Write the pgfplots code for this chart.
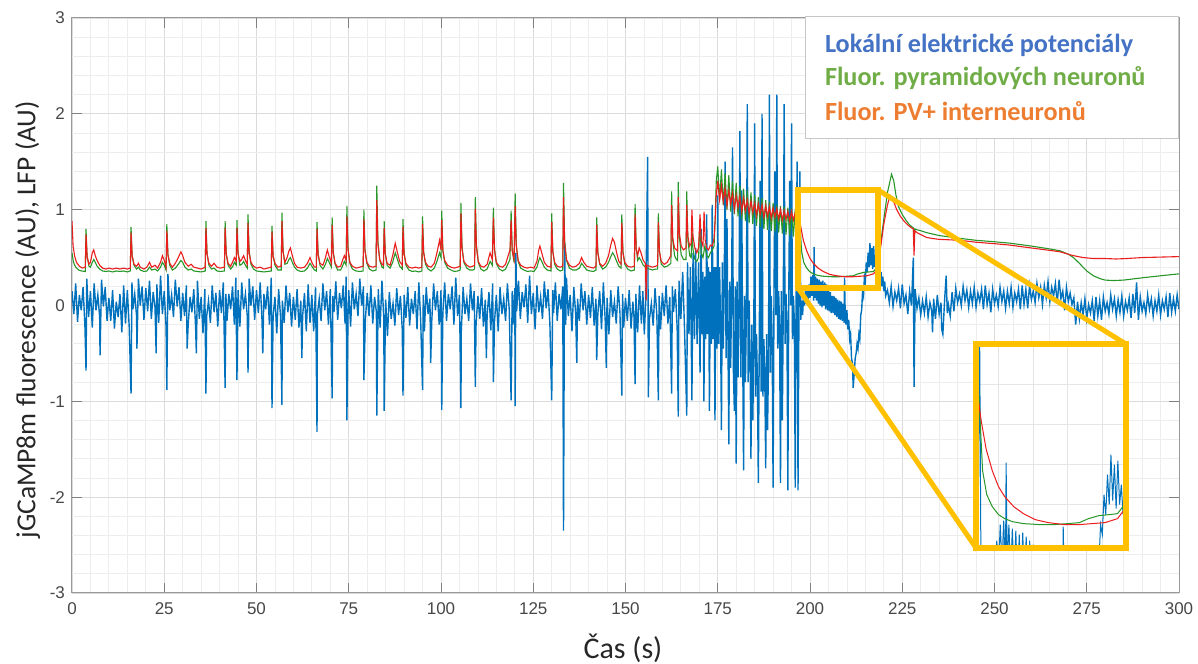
\documentclass[border=0pt]{standalone}
\usepackage{pgfplots}
\pgfplotsset{compat=1.18}
\usepackage{pgfplotstable}
\usetikzlibrary{calc}
\usepackage{fontspec}
\setmainfont{Carlito}
\newfontfamily\arialf{Liberation Sans}
\definecolor{lfpblue}{RGB}{0,114,189}
\definecolor{fred}{RGB}{235,30,30}
\definecolor{fgreen}{RGB}{40,150,40}
\definecolor{legblue}{RGB}{68,114,196}
\definecolor{leggreen}{RGB}{112,173,71}
\definecolor{legorange}{RGB}{237,125,49}
\definecolor{zoomyellow}{RGB}{255,192,0}

\pgfplotstableread[row sep=\\]{
x y\\
0 0.15\\ 0.5 -0.09\\ 1 0.23\\ 1.5 -0.17\\ 2 0.11\\ 2.5 -0.05\\ 3 0.19\\ 3.5 -0.21\\ 3.8 -0.68\\ 4 0.28\\ 4.5 -0.12\\
5 0.15\\ 5.5 -0.23\\ 6 0.23\\ 6.5 -0.05\\ 7 0.11\\ 7.5 -0.12\\ 7.6 -0.52\\ 8 0.27\\ 8.5 -0.01\\ 9 0.19\\ 9.5 -0.16\\
10 0.08\\ 10.5 -0.16\\ 11 0.16\\ 11.5 -0.24\\ 12 0.04\\ 12.5 -0.12\\ 13 0.12\\ 13.5 -0.28\\ 14 0.21\\ 14.5 -0.19\\
15 0.16\\ 15.5 -0.22\\ 16.0 -0.92\\ 16.25 0.24\\ 16.5 -0.04\\ 17 0.12\\ 17.5 -0.11\\ 17.6 -0.45\\ 18 0.28\\ 18.5 0.0\\ 19 0.20\\ 19.5 -0.15\\
20 0.18\\ 20.5 -0.06\\ 21 0.26\\ 21.5 -0.14\\ 22 0.14\\ 22.5 -0.02\\ 22.8 -0.5\\ 23 0.22\\ 23.5 -0.18\\ 24 0.31\\ 24.5 -0.09\\
25 0.15\\ 25.5 -0.23\\ 25.7 -0.88\\ 26 0.33\\ 26.5 -0.05\\ 27 0.11\\ 27.5 -0.12\\ 28 0.27\\ 28.5 -0.01\\ 29 0.19\\ 29.5 -0.16\\
30 0.13\\ 30.5 -0.11\\ 31 0.21\\ 31.2 -0.45\\ 31.5 -0.19\\ 32 0.09\\ 32.5 -0.07\\ 33 0.17\\ 33.5 -0.23\\ 33.7 -0.5\\ 34 0.26\\ 34.5 -0.14\\
35 0.09\\ 35.5 -0.29\\ 36 0.17\\ 36.3 -0.92\\ 36.5 -0.11\\ 37 0.05\\ 37.5 -0.18\\ 38 0.21\\ 38.5 -0.07\\ 39 0.13\\ 39.5 -0.22\\
40 0.16\\ 40.5 -0.08\\ 41 0.24\\ 41.5 -0.86\\ 41.7 0.12\\ 42 -0.16\\ 42.5 0.12\\ 43 -0.04\\ 43.5 0.20\\ 44 -0.20\\ 44.4 0.29\\ 44.7 -0.78\\
45 0.16\\ 45.5 -0.22\\ 46 0.24\\ 46.5 -0.04\\ 47 0.12\\ 47.5 -0.11\\ 47.7 -0.70\\ 48 0.28\\ 48.5 0.0\\ 49 0.20\\ 49.5 -0.15\\
50 0.16\\ 50.5 -0.08\\ 51 0.24\\ 51.5 -0.16\\ 51.7 -0.5\\ 52 0.12\\ 52.5 -0.04\\ 53 0.20\\ 53.5 -0.20\\ 54 0.29\\ 54.2 -1.07\\ 54.5 -0.11\\
55 0.09\\ 55.5 -0.29\\ 56 0.17\\ 56.5 -0.11\\ 56.9 -1.04\\ 57 0.05\\ 57.5 -0.18\\ 58 0.21\\ 58.5 -0.07\\ 59 0.13\\ 59.5 -0.22\\
60 0.09\\ 60.5 -0.15\\ 61 0.17\\ 61.5 -0.23\\ 62 0.05\\ 62.3 -0.55\\ 62.5 -0.11\\ 63 0.13\\ 63.5 -0.27\\ 64 0.22\\ 64.5 -0.18\\
65 0.11\\ 65.5 -0.27\\ 66 0.19\\ 66.4 -1.32\\ 66.5 -0.09\\ 67 0.07\\ 67.5 -0.16\\ 68 0.23\\ 68.5 -0.05\\ 69 0.15\\ 69.5 -0.20\\
70 0.17\\ 70.5 -0.97\\ 70.7 0.1\\ 71 -0.07\\ 71.5 0.25\\ 72 -0.15\\ 72.5 0.13\\ 73 -0.03\\ 73.5 0.21\\ 74 -0.19\\ 74.3 0.30\\ 74.5 -1.20\\ 74.8 -0.10\\
75 0.16\\ 75.5 -0.22\\ 76 0.24\\ 76.5 -0.04\\ 77 0.12\\ 77.5 -0.11\\ 78 0.28\\ 78.5 0.0\\ 79 0.20\\ 79.1 -0.78\\ 79.5 -0.15\\
80 0.13\\ 80.5 -0.11\\ 81 0.21\\ 81.5 -0.19\\ 82 0.09\\ 82.5 -0.07\\ 82.6 -1.15\\ 83 0.17\\ 83.5 -0.23\\ 84 0.26\\ 84.5 -0.14\\ 84.6 -1.10\\
85 0.06\\ 85.5 -0.32\\ 86 0.14\\ 86.5 -0.14\\ 87 0.02\\ 87.5 -0.21\\ 88 0.18\\ 88.5 -0.10\\ 89 0.10\\ 89.5 -0.25\\ 89.7 -0.94\\
90 0.11\\ 90.5 -0.13\\ 91 0.19\\ 91.5 -0.21\\ 92 0.07\\ 92.5 -0.09\\ 93 0.15\\ 93.5 -0.25\\ 94 0.24\\ 94.5 -0.16\\
95 -0.88\\ 95.2 0.11\\ 95.5 -0.27\\ 96 0.19\\ 96.5 -0.09\\ 97 0.07\\ 97.2 -0.6\\ 97.5 -0.16\\ 98 0.23\\ 98.5 -0.05\\ 99 0.15\\ 99.5 -0.20\\
100 0.16\\ 100.2 -1.09\\ 100.5 -0.08\\ 101 0.24\\ 101.5 -0.16\\ 102 0.12\\ 102.5 -0.04\\ 103 0.20\\ 103.5 -0.20\\ 104 0.29\\ 104.5 -0.11\\
105 0.11\\ 105.4 -1.07\\ 105.5 -0.27\\ 106 0.19\\ 106.5 -0.09\\ 107 0.07\\ 107.5 -0.16\\ 108 0.23\\ 108.5 -0.05\\ 109 0.15\\ 109.3 -0.85\\ 109.5 -0.20\\
110 0.10\\ 110.5 -0.14\\ 111 0.18\\ 111.5 -0.22\\ 112 0.06\\ 112.3 -0.55\\ 112.5 -0.10\\ 113 0.14\\ 113.5 -0.26\\ 114 0.23\\ 114.2 -0.80\\ 114.5 -0.17\\
115 0.11\\ 115.5 -0.27\\ 116 0.19\\ 116.5 -0.09\\ 117 0.07\\ 117.5 -0.16\\ 118 0.23\\ 118.5 -0.05\\ 119 -0.99\\ 119.3 0.15\\ 119.5 -0.20\\
120 0.18\\ 120.1 -1.05\\ 120.3 0.55\\ 120.5 -0.06\\ 121 0.26\\ 121.5 -0.14\\ 122 0.14\\ 122.5 -0.02\\ 123 0.22\\ 123.5 -0.18\\ 124 0.31\\ 124.5 -0.09\\
125 0.13\\ 125.5 -0.25\\ 126 0.21\\ 126.5 -0.07\\ 127 0.09\\ 127.5 -0.14\\ 128 0.25\\ 128.5 -0.03\\ 129 0.17\\ 129.5 -0.18\\
130 -0.99\\ 130.3 0.16\\ 130.5 -0.08\\ 131 0.24\\ 131.5 -0.16\\ 132 0.12\\ 132.5 -0.04\\ 133 0.20\\ 133.2 -2.35\\ 133.5 0.65\\ 133.8 -0.2\\ 134 0.29\\ 134.5 -0.11\\
135 0.11\\ 135.5 -0.27\\ 136 0.19\\ 136.5 -0.09\\ 136.8 -0.6\\ 137 0.07\\ 137.5 -0.16\\ 138 0.23\\ 138.5 -0.05\\ 139 0.15\\ 139.5 -0.20\\
140 0.11\\ 140.5 -0.13\\ 141 0.19\\ 141.5 -0.21\\ 142 0.07\\ 142.2 -0.57\\ 142.5 -0.09\\ 143 0.15\\ 143.5 -0.25\\ 144 0.24\\ 144.5 -0.16\\ 144.8 -0.65\\
145 0.08\\ 145.5 -0.30\\ 146 0.16\\ 146.5 -0.12\\ 147 0.04\\ 147.5 -0.19\\ 148 0.20\\ 148.5 -0.08\\ 149 -0.94\\ 149.2 0.12\\ 149.5 -0.23\\
150 0.08\\ 150.5 -0.16\\ 151 0.16\\ 151.5 -0.24\\ 152 0.04\\ 152.3 -0.12\\ 152.6 -0.82\\ 152.8 0.12\\ 153.3 -0.28\\ 153.8 0.21\\ 154.3 -0.19\\ 154.7 0.15\\
155.1 -0.3\\ 155.5 0.06\\ 156.0 1.55\\ 156.2 -0.96\\ 156.5 -0.14\\ 157 0.02\\ 157.5 -0.21\\ 158 0.18\\ 158.5 -0.10\\ 158.9 -0.99\\ 159.1 0.1\\ 159.5 -0.25\\
160 0.13\\ 160.5 -0.11\\ 161 0.21\\ 161.5 -0.19\\ 162 0.09\\ 162.5 -0.92\\ 162.7 0.2\\ 163 -0.07\\ 163.5 0.17\\ 164 -0.23\\ 164.3 -1.16\\ 164.5 0.26\\ 165 -0.14\\
165.5 0.35\\ 166 -0.25\\ 166.6 -1.15\\ 166.8 0.45\\ 167.2 -0.3\\ 167.6 0.4\\ 168.0 -0.99\\ 168.3 0.55\\ 168.7 -0.35\\ 169.0 0.6\\ 169.4 -0.4\\ 169.8 0.45\\ 170.2 -0.7\\ 170.5 0.8\\
170.75 -0.3\\ 171.0 0.35\\ 171.25 -1.0\\ 171.5 0.3\\ 171.75 -0.35\\ 172.0 0.95\\ 172.25 -0.3\\ 172.5 0.4\\ 172.75 -1.1\\ 173.0 0.35\\ 173.25 -0.4\\ 173.5 1.05\\ 173.75 -0.35\\ 174.0 0.4\\ 174.25 -1.2\\ 174.5 0.4\\ 174.75 -0.45\\
175.0 1.15\\ 175.25 -0.4\\ 175.5 0.4\\ 175.75 -0.2\\
176.0 -1.3\\ 176.25 0.45\\ 176.5 -0.45\\ 176.75 0.2\\
177.0 1.5\\ 177.25 -0.55\\ 177.5 0.9\\ 177.75 -0.3\\
178.0 -1.45\\ 178.25 0.25\\ 178.5 -0.65\\ 178.75 0.1\\
179.0 1.65\\ 179.25 -0.7\\ 179.5 -1.1\\ 179.75 0.2\\
180.0 -1.65\\ 180.25 0.25\\ 180.5 -0.75\\ 180.75 0.0\\
181.0 1.82\\ 181.25 -0.75\\ 181.5 1.2\\ 181.75 -0.45\\
182.0 -1.72\\ 182.25 0.1\\ 182.5 -0.8\\ 182.75 -0.1\\
183.0 2.1\\ 183.25 -0.8\\ 183.5 0.05\\ 183.75 -0.5\\
184.0 -1.6\\ 184.25 -0.2\\ 184.5 -1.2\\ 184.75 -0.5\\
185.0 1.9\\ 185.25 -0.95\\ 185.5 -0.3\\ 185.75 -0.8\\
186.0 -1.85\\ 186.25 -0.4\\ 186.5 1.3\\ 186.75 -0.9\\
187.0 2.0\\ 187.25 -0.95\\ 187.5 -0.35\\ 187.75 -0.75\\
188.0 -1.7\\ 188.25 -0.3\\ 188.5 -1.3\\ 188.75 -0.6\\
189.0 2.2\\ 189.25 -0.7\\ 189.5 0.1\\ 189.75 -0.4\\
190.0 -1.9\\ 190.25 0.15\\ 190.5 1.4\\ 190.75 -0.1\\
191.0 2.2\\ 191.25 -0.45\\ 191.5 0.15\\ 191.75 -0.2\\
192.0 -1.85\\ 192.25 0.15\\ 192.5 -1.2\\ 192.75 -0.05\\
193.0 2.1\\ 193.25 -0.4\\ 193.5 0.12\\ 193.75 -0.2\\
194.0 -1.93\\ 194.25 0.15\\ 194.5 1.3\\ 194.75 0.0\\
195.0 1.9\\ 195.25 -0.35\\ 195.5 0.1\\ 195.75 -0.15\\
196.0 -1.9\\ 196.25 0.1\\ 196.5 1.5\\ 196.75 -1.93\\
197.0 -0.1\\ 197.25 1.4\\ 197.5 -0.15\\ 197.75 0.05\\ 198 -0.1\\ 198.25 0.1\\ 198.5 0.0\\ 198.75 0.15\\ 199 0.02\\ 199.25 0.18\\ 199.5 0.05\\ 199.75 0.22\\
200 0.08\\ 200.25 0.30\\ 200.5 0.1\\ 200.75 0.32\\ 201.0 0.05\\ 201.1 0.61\\ 201.25 0.08\\ 201.5 0.30\\ 201.75 0.05\\ 202 0.28\\ 202.25 0.02\\ 202.5 0.27\\ 202.75 0.0\\
203 0.25\\ 203.25 -0.02\\ 203.5 0.26\\ 203.75 0.0\\ 204 0.24\\ 204.25 -0.04\\ 204.5 0.22\\ 204.75 -0.05\\ 205 0.20\\ 205.25 -0.06\\ 205.5 0.14\\ 205.75 -0.08\\
206 0.1\\ 206.25 -0.08\\ 206.5 0.1\\ 206.75 -0.1\\ 207 0.08\\ 207.25 -0.12\\ 207.5 0.06\\ 207.75 -0.14\\ 208 0.05\\ 208.25 -0.15\\ 208.5 0.04\\ 208.75 -0.16\\
209 0.02\\ 209.25 -0.18\\ 209.35 0.29\\ 209.5 0.0\\ 209.75 -0.2\\ 210 -0.05\\ 210.25 -0.25\\ 210.5 -0.15\\ 210.75 -0.35\\ 211 -0.3\\ 211.25 -0.55\\ 211.5 -0.6\\ 211.7 -0.86\\
212 -0.7\\ 212.25 -0.55\\ 212.5 -0.5\\ 212.75 -0.4\\ 213 -0.45\\ 213.25 -0.3\\ 213.5 -0.35\\ 213.75 -0.1\\ 214 -0.05\\ 214.25 0.15\\ 214.5 0.1\\ 214.75 0.3\\
215 0.25\\ 215.25 0.45\\ 215.5 0.35\\ 215.75 0.55\\ 216 0.4\\ 216.25 0.65\\ 216.5 0.42\\ 216.75 0.60\\ 217 0.38\\ 217.25 0.62\\ 217.5 0.4\\ 217.75 0.5\\
218 0.35\\ 218.25 0.48\\ 218.5 0.3\\ 218.75 0.4\\ 219 0.25\\ 219.25 0.35\\ 219.5 0.2\\ 219.75 0.3\\ 220 0.15\\ 220.25 0.25\\ 220.5 0.1\\
221 0.16\\ 221.5 0.03\\ 222 0.20\\ 222.5 -0.01\\ 223 0.14\\ 223.5 0.05\\ 224 0.18\\ 224.5 -0.03\\ 225 0.22\\ 225.5 0.02\\
226 0.11\\ 226.5 -0.09\\ 227 0.15\\ 227.5 0.0\\ 228.0 0.5\\ 228.2 -0.85\\ 228.5 0.17\\ 229.0 -0.03\\ 229.5 0.08\\ 230 -0.10\\
230.5 0.05\\ 231 -0.08\\ 231.5 0.09\\ 232 -0.12\\ 232.5 0.03\\ 233 -0.06\\ 233.2 -0.28\\ 233.5 0.07\\ 234 -0.14\\ 234.5 0.11\\ 235 -0.09\\
235.5 0.03\\ 235.7 -0.25\\ 236 -0.30\\ 236.5 0.07\\ 236.9 0.31\\ 237.2 -0.08\\ 237.5 0.01\\ 238 -0.11\\
238.5 0.14\\ 239 -0.06\\ 239.5 0.18\\ 240 0.03\\ 240.5 0.12\\ 241 0.0\\ 241.5 0.20\\ 242 0.05\\ 242.5 0.16\\ 243 -0.02\\
243.5 0.15\\ 244 0.02\\ 244.5 0.19\\ 245 -0.02\\ 245.5 0.13\\ 246 0.04\\ 246.5 0.17\\ 247 -0.04\\ 247.5 0.21\\ 248 0.01\\
248.5 0.13\\ 249 -0.07\\ 249.5 0.17\\ 250 0.02\\ 250.5 0.11\\ 251 -0.01\\ 251.5 0.19\\ 252 0.04\\ 252.5 0.15\\ 253 -0.03\\
253.5 0.15\\ 254 0.02\\ 254.5 0.19\\ 255 -0.02\\ 255.5 0.13\\ 256 0.04\\ 256.5 0.17\\ 257 -0.04\\ 257.5 0.21\\ 258 0.01\\
258.5 0.17\\ 259 -0.03\\ 259.5 0.21\\ 260 0.06\\ 260.5 0.15\\ 261 0.03\\ 261.5 0.23\\ 262 0.08\\ 262.5 0.19\\ 263 0.01\\
263.5 0.21\\ 264 0.08\\ 264.5 0.25\\ 265 0.04\\ 265.5 0.19\\ 266 0.10\\ 266.5 0.23\\ 267 0.02\\ 267.5 0.27\\ 268 0.07\\
268.5 0.15\\ 269 -0.05\\ 269.5 0.19\\ 270 0.04\\ 270.5 0.13\\ 271 0.01\\ 271.5 0.08\\ 272 -0.20\\ 272.5 0.04\\ 273 -0.14\\
273.5 0.03\\ 274 -0.10\\ 274.5 0.07\\ 275 -0.14\\ 275.5 0.01\\ 276 -0.08\\ 276.5 0.05\\ 277 -0.16\\ 277.5 0.09\\ 278 -0.11\\
278.5 0.05\\ 279 -0.15\\ 279.5 0.09\\ 280 -0.06\\ 280.5 0.03\\ 281 -0.09\\ 281.5 0.11\\ 282 -0.04\\ 282.5 0.07\\ 283 -0.11\\
283.5 0.06\\ 284 -0.07\\ 284.5 0.10\\ 285 -0.11\\ 285.5 0.04\\ 286 -0.05\\ 286.5 0.08\\ 287 -0.13\\ 287.5 0.12\\ 288 -0.08\\ 288.5 0.24\\
289 -0.15\\ 289.5 0.09\\ 290 -0.06\\ 290.5 0.03\\ 291 -0.09\\ 291.5 0.11\\ 292 -0.04\\ 292.5 0.07\\ 293 -0.11\\ 293.5 0.05\\
294 -0.06\\ 294.5 0.11\\ 295 -0.10\\ 295.5 0.05\\ 296 -0.04\\ 296.5 0.09\\ 297 -0.12\\ 297.5 0.13\\ 298 -0.07\\ 298.5 0.07\\ 299 -0.06\\ 299.5 0.11\\ 300 -0.04\\
}\bluetab

\pgfplotstableread[row sep=\\]{
x y\\
0 0.55\\ 0.4 0.45\\ 1.0 0.40\\ 1.8 0.37\\ 2.6 0.36\\ 3.6 0.355\\ 3.8 0.80\\ 4.1 0.51\\ 4.6 0.41\\ 5.0 0.40\\ 5.5 0.45\\ 5.9 0.48\\ 6.3 0.45\\ 6.8 0.41\\ 7.5 0.38\\ 8.3 0.36\\ 9.2 0.355\\
10 0.36\\ 11 0.35\\ 12 0.36\\ 13 0.355\\ 14 0.36\\ 15 0.35\\ 15.8 0.36\\ 16.0 0.82\\ 16.3 0.52\\ 16.8 0.42\\ 17.5 0.38\\ 18 0.40\\ 18.5 0.37\\ 19.5 0.355\\
20.3 0.36\\ 21 0.40\\ 21.6 0.37\\ 22.5 0.38\\ 23.2 0.36\\ 24 0.40\\ 24.5 0.45\\ 25 0.42\\ 25.5 0.37\\ 25.7 0.85\\ 26.0 0.53\\ 26.5 0.42\\ 27.2 0.37\\ 28.0 0.39\\ 28.8 0.43\\ 29.5 0.47\\
30.0 0.45\\ 30.6 0.40\\ 31.5 0.37\\ 32.3 0.38\\ 33 0.36\\ 34 0.355\\ 35 0.35\\ 36.1 0.36\\ 36.3 0.88\\ 36.6 0.54\\ 37.1 0.42\\ 37.8 0.38\\ 38.5 0.39\\ 39.3 0.36\\
40.2 0.355\\ 41.3 0.36\\ 41.5 0.88\\ 41.8 0.54\\ 42.3 0.42\\ 43 0.38\\ 43.6 0.41\\ 44.0 0.45\\ 44.5 0.42\\ 44.7 0.89\\ 45.0 0.55\\ 45.5 0.42\\ 46.0 0.43\\ 46.5 0.46\\ 47.0 0.42\\ 47.5 0.39\\ 47.7 0.95\\ 48.0 0.57\\ 48.5 0.43\\ 49.2 0.38\\
50 0.36\\ 51 0.355\\ 52 0.35\\ 53 0.355\\ 54.0 0.36\\ 54.2 0.83\\ 54.5 0.52\\ 55.0 0.42\\ 55.8 0.37\\ 56.7 0.37\\ 56.9 0.97\\ 57.2 0.57\\ 57.7 0.43\\ 58.3 0.44\\ 58.8 0.48\\ 59.2 0.50\\ 59.7 0.45\\
60.3 0.40\\ 61 0.37\\ 62 0.355\\ 63 0.36\\ 63.8 0.39\\ 64.5 0.44\\ 65.0 0.41\\ 65.7 0.37\\ 66.2 0.36\\ 66.4 0.87\\ 66.7 0.54\\ 67.2 0.42\\ 68 0.38\\ 68.7 0.43\\ 69.2 0.49\\ 69.7 0.45\\
70.3 0.40\\ 70.5 0.92\\ 70.8 0.56\\ 71.3 0.43\\ 72 0.37\\ 72.8 0.37\\ 73.3 0.41\\ 73.8 0.46\\ 74.3 0.42\\ 74.5 1.04\\ 74.8 0.60\\ 75.3 0.44\\ 76 0.38\\ 77 0.36\\ 78 0.355\\ 78.9 0.36\\ 79.1 1.00\\ 79.4 0.58\\ 79.9 0.44\\
80.6 0.38\\ 81.5 0.36\\ 82.4 0.37\\ 82.6 1.25\\ 82.9 0.67\\ 83.4 0.47\\ 84 0.40\\ 84.4 0.39\\ 84.6 0.88\\ 84.9 0.54\\ 85.4 0.42\\ 86.2 0.39\\ 86.9 0.45\\ 87.6 0.55\\ 88.2 0.48\\ 88.8 0.41\\ 89.5 0.38\\ 89.7 0.90\\
90.0 0.55\\ 90.5 0.42\\ 91.3 0.37\\ 92.2 0.355\\ 93 0.36\\ 94 0.35\\ 94.8 0.36\\ 95.0 0.93\\ 95.3 0.56\\ 95.8 0.43\\ 96.5 0.38\\ 97.3 0.36\\ 98.2 0.39\\ 98.9 0.46\\ 99.6 0.55\\
100.0 0.50\\ 100.2 0.99\\ 100.5 0.58\\ 101.0 0.45\\ 101.8 0.39\\ 102.7 0.37\\ 103.6 0.355\\ 104.5 0.36\\ 105.2 0.37\\ 105.4 1.07\\ 105.7 0.61\\ 106.2 0.45\\ 107 0.39\\ 107.8 0.37\\ 108.6 0.37\\ 109.1 0.38\\ 109.3 1.13\\ 109.6 0.63\\
110.1 0.45\\ 110.8 0.38\\ 111.6 0.36\\ 112.5 0.38\\ 113.3 0.46\\ 113.9 0.42\\ 114.2 1.02\\ 114.5 0.59\\ 115.0 0.44\\ 115.8 0.38\\ 116.7 0.36\\ 117.5 0.38\\ 118.2 0.44\\ 118.7 0.48\\ 119.0 0.99\\ 119.3 0.58\\ 119.8 0.45\\
120.1 1.17\\ 120.4 0.64\\ 120.9 0.46\\ 121.6 0.39\\ 122.5 0.37\\ 123.4 0.355\\ 124.3 0.36\\ 125.2 0.355\\ 126.0 0.40\\ 126.5 0.47\\ 126.8 0.50\\ 127.3 0.46\\ 128 0.40\\ 128.8 0.37\\ 129.8 0.36\\
130.0 0.96\\ 130.3 0.57\\ 130.8 0.43\\ 131.5 0.38\\ 132.3 0.36\\ 133.0 0.37\\ 133.2 1.28\\ 133.5 0.68\\ 134.0 0.47\\ 134.8 0.39\\ 135.7 0.37\\ 136.6 0.37\\ 137.5 0.39\\ 138.1 0.44\\ 138.7 0.41\\ 139.5 0.37\\
140.4 0.36\\ 141.3 0.355\\ 142.0 0.37\\ 142.2 0.92\\ 142.5 0.56\\ 143.0 0.43\\ 143.8 0.38\\ 144.6 0.40\\ 145.4 0.45\\ 146.0 0.51\\ 146.5 0.55\\ 147.0 0.52\\ 147.6 0.46\\ 148.2 0.41\\ 148.8 0.39\\ 149.0 0.95\\ 149.3 0.57\\ 149.8 0.43\\
150.6 0.38\\ 151.5 0.36\\ 152.4 0.37\\ 152.6 1.06\\ 152.9 0.60\\ 153.3 0.47\\ 153.7 0.50\\ 154.2 0.47\\ 154.8 0.42\\ 155.4 0.40\\ 155.8 0.39\\ 156.5 0.38\\ 157.3 0.37\\ 158.2 0.38\\ 158.7 0.38\\ 158.9 0.96\\ 159.2 0.57\\ 159.7 0.43\\
160.5 0.40\\ 161.3 0.41\\ 162.0 0.43\\ 162.3 0.44\\ 162.5 1.19\\ 162.8 0.68\\ 163.3 0.52\\ 163.8 0.48\\ 164.1 0.47\\ 164.3 1.29\\ 164.6 0.72\\ 165.1 0.53\\ 165.7 0.48\\ 166.4 0.48\\ 166.6 1.19\\ 166.9 0.68\\ 167.4 0.52\\ 167.8 0.50\\
168.0 0.80\\ 168.3 0.58\\ 168.8 0.48\\ 169.3 0.46\\ 169.8 0.50\\ 170.2 0.9\\ 170.5 0.55\\ 171.0 0.50\\ 171.5 0.62\\ 172.0 0.52\\ 172.5 0.50\\ 173.0 0.55\\ 173.5 0.58\\ 174.0 0.62\\ 174.3 0.9\\ 174.6 1.3\\ 175.0 1.45\\
175.5 1.10\\ 176.0 1.42\\ 176.5 1.05\\ 177.0 1.38\\ 177.5 1.00\\ 178.0 1.36\\ 178.5 0.98\\ 179.0 1.30\\ 179.5 0.95\\ 180.0 1.28\\ 180.5 0.93\\ 181.0 1.25\\ 181.5 0.90\\ 182.0 1.22\\ 182.5 0.88\\ 183.0 1.20\\ 183.5 0.86\\
184.0 1.18\\ 184.5 0.85\\ 185.0 1.15\\ 185.5 0.83\\ 186.0 1.13\\ 186.5 0.82\\ 187.0 1.12\\ 187.5 0.80\\ 188.0 1.10\\ 188.5 0.79\\ 189.0 1.08\\ 189.5 0.78\\ 190.0 1.07\\ 190.5 0.77\\ 191.0 1.05\\ 191.5 0.76\\
192.0 1.04\\ 192.5 0.75\\ 193.0 1.03\\ 193.5 0.74\\ 194.0 1.02\\ 194.5 0.73\\ 195.0 1.01\\ 195.5 0.72\\ 196.0 1.00\\ 196.5 0.72\\ 197.0 1.05\\
197.3 0.85\\ 197.7 0.57\\ 198.3 0.45\\ 199.1 0.39\\ 200 0.35\\ 200.9 0.33\\ 202 0.315\\ 203.6 0.305\\ 206 0.30\\ 208 0.30\\ 210 0.305\\ 211.7 0.31\\ 213 0.33\\ 214.5 0.345\\ 216 0.35\\ 217.2 0.355\\ 218.2 0.40\\
219 0.60\\ 220 0.90\\ 221 1.18\\ 222.1 1.37\\ 222.7 1.30\\ 223.3 1.15\\ 224 1.03\\ 225 0.95\\ 226 0.89\\ 227 0.84\\ 228 0.81\\ 228.2 0.67\\ 228.4 0.80\\ 229 0.79\\ 230 0.78\\ 231.6 0.76\\ 235 0.73\\
240.7 0.70\\ 245 0.68\\ 250 0.665\\ 254.2 0.65\\ 260 0.62\\ 265 0.59\\ 267.8 0.57\\ 270 0.535\\ 271.4 0.50\\ 273 0.44\\ 275 0.36\\ 276.8 0.31\\ 278.6 0.28\\ 280 0.265\\ 282.2 0.26\\ 285 0.265\\ 290.3 0.29\\ 295 0.31\\ 300 0.33\\
}\greentab

\pgfplotstableread[row sep=\\]{
x y\\
0 0.88\\ 0.3 0.62\\ 0.7 0.52\\ 1.2 0.45\\ 2 0.41\\ 2.8 0.39\\ 3.6 0.40\\ 3.8 0.74\\ 4.1 0.51\\ 4.6 0.43\\ 5.0 0.45\\ 5.5 0.55\\ 5.9 0.58\\ 6.3 0.52\\ 6.8 0.47\\ 7.5 0.42\\ 8.3 0.39\\ 9.2 0.38\\
10 0.39\\ 11 0.38\\ 12 0.39\\ 13 0.38\\ 14 0.39\\ 15 0.38\\ 15.8 0.39\\ 16.0 0.76\\ 16.3 0.52\\ 16.8 0.43\\ 17.5 0.41\\ 18 0.44\\ 18.5 0.40\\ 19.5 0.38\\
20.3 0.40\\ 21 0.45\\ 21.6 0.40\\ 22.5 0.42\\ 23.2 0.39\\ 24 0.45\\ 24.5 0.52\\ 25 0.47\\ 25.5 0.40\\ 25.7 0.78\\ 26.0 0.53\\ 26.5 0.44\\ 27.2 0.40\\ 28.0 0.44\\ 28.8 0.50\\ 29.5 0.56\\
30.0 0.52\\ 30.6 0.45\\ 31.5 0.41\\ 32.3 0.43\\ 33 0.40\\ 34 0.39\\ 35 0.38\\ 36.1 0.40\\ 36.3 0.81\\ 36.6 0.54\\ 37.1 0.44\\ 37.8 0.41\\ 38.5 0.44\\ 39.3 0.40\\
40.2 0.39\\ 41.3 0.40\\ 41.5 0.81\\ 41.8 0.54\\ 42.3 0.44\\ 43 0.41\\ 43.6 0.46\\ 44.0 0.50\\ 44.5 0.46\\ 44.7 0.81\\ 45.0 0.54\\ 45.5 0.46\\ 46.0 0.48\\ 46.5 0.52\\ 47.0 0.47\\ 47.5 0.43\\ 47.7 0.86\\ 48.0 0.55\\ 48.5 0.45\\ 49.2 0.41\\
50 0.39\\ 51 0.40\\ 52 0.38\\ 53 0.39\\ 54.0 0.40\\ 54.2 0.77\\ 54.5 0.52\\ 55.0 0.44\\ 55.8 0.40\\ 56.7 0.41\\ 56.9 0.88\\ 57.2 0.56\\ 57.7 0.45\\ 58.3 0.50\\ 58.8 0.57\\ 59.2 0.60\\ 59.7 0.52\\
60.3 0.44\\ 61 0.40\\ 62 0.39\\ 63 0.40\\ 63.8 0.44\\ 64.5 0.50\\ 65.0 0.45\\ 65.7 0.40\\ 66.2 0.40\\ 66.4 0.80\\ 66.7 0.53\\ 67.2 0.44\\ 68 0.42\\ 68.7 0.50\\ 69.2 0.58\\ 69.7 0.51\\
70.3 0.44\\ 70.5 0.84\\ 70.8 0.55\\ 71.3 0.44\\ 72 0.40\\ 72.8 0.41\\ 73.3 0.47\\ 73.8 0.52\\ 74.3 0.47\\ 74.5 0.93\\ 74.8 0.58\\ 75.3 0.45\\ 76 0.41\\ 77 0.39\\ 78 0.40\\ 78.9 0.41\\ 79.1 0.90\\ 79.4 0.57\\ 79.9 0.45\\
80.6 0.41\\ 81.5 0.40\\ 82.4 0.41\\ 82.6 1.10\\ 82.9 0.64\\ 83.4 0.48\\ 84 0.43\\ 84.4 0.42\\ 84.6 0.81\\ 84.9 0.54\\ 85.4 0.44\\ 86.2 0.42\\ 86.9 0.52\\ 87.6 0.65\\ 88.2 0.55\\ 88.8 0.46\\ 89.5 0.42\\ 89.7 0.82\\
90.0 0.54\\ 90.5 0.44\\ 91.3 0.40\\ 92.2 0.39\\ 93 0.40\\ 94 0.39\\ 94.8 0.40\\ 95.0 0.85\\ 95.3 0.55\\ 95.8 0.45\\ 96.5 0.41\\ 97.3 0.40\\ 98.2 0.44\\ 98.9 0.55\\ 99.6 0.68\\
100.0 0.58\\ 100.2 0.89\\ 100.5 0.57\\ 101.0 0.47\\ 101.8 0.42\\ 102.7 0.40\\ 103.6 0.39\\ 104.5 0.40\\ 105.2 0.41\\ 105.4 0.96\\ 105.7 0.59\\ 106.2 0.46\\ 107 0.42\\ 107.8 0.40\\ 108.6 0.41\\ 109.1 0.42\\ 109.3 1.01\\ 109.6 0.61\\
110.1 0.46\\ 110.8 0.41\\ 111.6 0.40\\ 112.5 0.43\\ 113.3 0.55\\ 113.9 0.48\\ 114.2 0.92\\ 114.5 0.58\\ 115.0 0.45\\ 115.8 0.41\\ 116.7 0.40\\ 117.5 0.43\\ 118.2 0.52\\ 118.7 0.58\\ 119.0 0.89\\ 119.3 0.57\\ 119.8 0.48\\
120.1 1.04\\ 120.4 0.62\\ 120.9 0.47\\ 121.6 0.42\\ 122.5 0.40\\ 123.4 0.39\\ 124.3 0.40\\ 125.2 0.39\\ 126.0 0.46\\ 126.5 0.58\\ 126.8 0.62\\ 127.3 0.55\\ 128 0.45\\ 128.8 0.41\\ 129.8 0.40\\
130.0 0.87\\ 130.3 0.56\\ 130.8 0.45\\ 131.5 0.41\\ 132.3 0.40\\ 133.0 0.41\\ 133.2 1.13\\ 133.5 0.65\\ 134.0 0.48\\ 134.8 0.42\\ 135.7 0.40\\ 136.6 0.41\\ 137.5 0.44\\ 138.1 0.50\\ 138.7 0.45\\ 139.5 0.41\\
140.4 0.40\\ 141.3 0.39\\ 142.0 0.41\\ 142.2 0.84\\ 142.5 0.55\\ 143.0 0.44\\ 143.8 0.41\\ 144.6 0.44\\ 145.4 0.52\\ 146.0 0.63\\ 146.5 0.70\\ 147.0 0.66\\ 147.6 0.55\\ 148.2 0.46\\ 148.8 0.43\\ 149.0 0.86\\ 149.3 0.55\\ 149.8 0.45\\
150.6 0.41\\ 151.5 0.40\\ 152.4 0.41\\ 152.6 0.95\\ 152.9 0.59\\ 153.3 0.52\\ 153.7 0.60\\ 154.2 0.55\\ 154.8 0.47\\ 155.4 0.44\\ 155.6 0.05\\ 155.8 0.42\\ 156.5 0.41\\ 157.3 0.40\\ 158.2 0.41\\ 158.7 0.42\\ 158.9 0.87\\ 159.2 0.56\\ 159.7 0.46\\
160.5 0.43\\ 161.3 0.45\\ 162.0 0.50\\ 162.3 0.52\\ 162.5 1.05\\ 162.8 0.70\\ 163.3 0.60\\ 163.8 0.58\\ 164.1 0.57\\ 164.3 1.13\\ 164.6 0.75\\ 165.1 0.62\\ 165.7 0.58\\ 166.4 0.60\\ 166.6 1.05\\ 166.9 0.72\\ 167.4 0.62\\ 167.8 0.65\\
168.0 1.0\\ 168.3 0.72\\ 168.8 0.60\\ 169.3 0.55\\ 169.8 0.60\\ 170.2 0.95\\ 170.5 0.68\\ 171.0 0.62\\ 171.3 0.98\\ 171.6 0.68\\ 172.0 0.60\\ 172.5 0.58\\ 173.0 0.63\\ 173.5 0.62\\ 174.0 0.7\\ 174.3 0.9\\ 174.6 1.15\\ 175.0 1.30\\
175.5 1.10\\ 176.0 1.25\\ 176.5 1.08\\ 177.0 1.22\\ 177.5 1.04\\ 178.0 1.20\\ 178.5 1.06\\ 179.0 1.17\\ 179.5 1.00\\ 180.0 1.15\\ 180.5 1.02\\ 181.0 1.14\\ 181.5 0.98\\ 182.0 1.12\\ 182.5 0.99\\ 183.0 1.10\\ 183.5 0.96\\
184.0 1.09\\ 184.5 0.97\\ 185.0 1.07\\ 185.5 0.94\\ 186.0 1.06\\ 186.5 0.95\\ 187.0 1.05\\ 187.5 0.92\\ 188.0 1.04\\ 188.5 0.93\\ 189.0 1.03\\ 189.5 0.91\\ 190.0 1.02\\ 190.5 0.92\\ 191.0 1.01\\ 191.5 0.90\\
192.0 1.00\\ 192.5 0.89\\ 193.0 0.99\\ 193.5 0.90\\ 194.0 0.98\\ 194.5 0.88\\ 195.0 0.98\\ 195.5 0.89\\ 196.0 0.97\\ 196.5 0.88\\ 197.0 0.95\\
197.5 0.82\\ 198.2 0.68\\ 199.1 0.57\\ 200 0.49\\ 200.9 0.44\\ 202.2 0.39\\ 203.6 0.355\\ 205.3 0.325\\ 207.2 0.31\\ 209.5 0.30\\ 211.7 0.30\\ 213.5 0.305\\ 215.4 0.31\\ 217.2 0.33\\ 218.3 0.38\\
219 0.57\\ 220 0.85\\ 221 1.05\\ 221.7 1.15\\ 222.5 1.10\\ 223.5 1.0\\ 224.5 0.93\\ 225.5 0.88\\ 226.5 0.84\\ 227.5 0.81\\ 228.0 0.80\\ 228.2 0.52\\ 228.4 0.78\\ 229 0.76\\ 230 0.74\\ 231.6 0.71\\ 233 0.70\\ 235 0.69\\
238 0.685\\ 240.7 0.68\\ 245 0.66\\ 250 0.645\\ 254.2 0.63\\ 258 0.61\\ 262 0.59\\ 265 0.575\\ 267.8 0.56\\ 270 0.535\\ 271.4 0.52\\ 274 0.50\\ 276.8 0.49\\ 280 0.49\\ 283 0.485\\ 285.8 0.49\\ 290 0.50\\ 295 0.505\\ 300 0.51\\
}\redtab

\begin{document}
\begin{tikzpicture}
\begin{axis}[
  name=main,
  scale only axis, width=553.5pt, height=287.5pt,
  xmin=0, xmax=300, ymin=-3, ymax=3,
  xtick={0,25,...,300}, ytick={-3,-2,-1,0,1,2,3},
  minor x tick num=4, minor y tick num=4,
  grid=both,
  major grid style={draw=black!14, line width=0.45pt},
  minor grid style={draw=black!7, line width=0.4pt},
  axis line style={draw=black!40, line width=0.5pt},
  tick style={draw=black!50, line width=0.5pt},
  major tick length=5pt, minor tick length=0pt,
  xtick pos=both, ytick pos=both,
  xticklabel pos=lower, yticklabel pos=left,
  tick label style={font=\arialf\fontsize{8.5}{10}\selectfont, text=black!72},
  xticklabel style={yshift=-1.5pt},
  /pgf/number format/assume math mode=true,
  xlabel={Čas (s)},
  xlabel style={at={(axis description cs:0.4977,-0.097)}, anchor=center, font=\fontsize{15}{17}\selectfont, text=black!85},
  ylabel={jGCaMP8m fluorescence (AU), LFP (AU)},
  ylabel style={at={(axis description cs:-0.040,0.475)}, anchor=center, font=\fontsize{13.75}{16}\selectfont, text=black!85},
  clip mode=individual,
]
\addplot[lfpblue, line width=0.7pt] table[x=x,y=y] {\bluetab};
\addplot[fgreen, line width=0.55pt] table[x=x,y=y] {\greentab};
\addplot[fred, line width=0.55pt] table[x=x,y=y] {\redtab};
\draw[zoomyellow, line width=3pt] (axis cs:196.75,0.183) rectangle (axis cs:218.43,1.205);
\draw[zoomyellow, line width=2.5pt] (axis cs:218.43,1.205) -- (axis cs:285.6,-0.402);
\draw[zoomyellow, line width=2.5pt] (axis cs:196.75,0.183) -- (axis cs:245.0,-2.53);
\node[draw=black!22, line width=0.7pt, fill=white, anchor=north east, minimum width=186.5pt, minimum height=61pt, inner sep=0pt] (lg) at ([yshift=1pt]rel axis cs:1,1) {};
\node[anchor=base west, inner sep=0pt, text=legblue, font=\bfseries\fontsize{13.1}{15}\selectfont] at ([xshift=10pt,yshift=-18.5pt]lg.north west) {Lokální elektrické potenciály};
\node[anchor=base west, inner sep=0pt, text=leggreen, font=\bfseries\fontsize{13.1}{15}\selectfont] at ([xshift=10pt,yshift=-35pt]lg.north west) {Fluor. pyramidových neuronů};
\node[anchor=base west, inner sep=0pt, text=legorange, font=\bfseries\fontsize{13.1}{15}\selectfont] at ([xshift=10pt,yshift=-52.5pt]lg.north west) {Fluor. PV+ interneuronů};
\end{axis}
\begin{axis}[
  at={($(main.south west)+(452pt,22.5pt)$)}, anchor=south west,
  scale only axis, width=75pt, height=102pt,
  xmin=196.75, xmax=218.43, ymin=0.183, ymax=1.205,
  axis background/.style={fill=white},
  xtick={200,205,210,215}, ytick={0.4,0.6,0.8,1.0},
  xticklabels={}, yticklabels={},
  major tick length=0pt,
  grid=major, major grid style={draw=black!10, line width=0.4pt},
  axis line style={draw=none},
  clip mode=individual,
]
\addplot[lfpblue, line width=0.5pt] table[x=x,y=y] {\bluetab};
\addplot[fgreen, line width=0.5pt] table[x=x,y=y] {\greentab};
\addplot[fred, line width=0.5pt] table[x=x,y=y] {\redtab};
\draw[zoomyellow, line width=3pt] (rel axis cs:0,0) rectangle (rel axis cs:1,1);
\end{axis}
\pgfresetboundingbox
\path ([xshift=-36pt,yshift=-35.5pt]main.south west) rectangle ([xshift=9.5pt,yshift=9pt]main.north east);
\end{tikzpicture}
\end{document}
